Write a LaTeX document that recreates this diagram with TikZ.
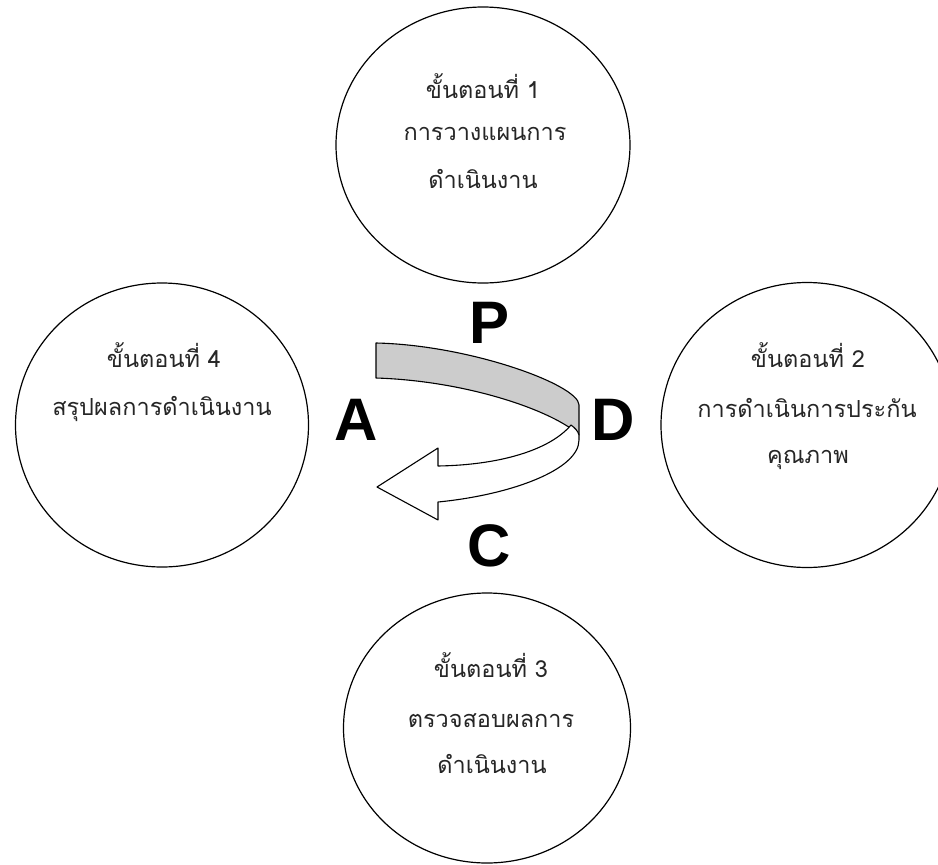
\documentclass[tikz,border=0pt]{standalone}
\usepackage{fontspec}
\setsansfont{Liberation Sans}
\newfontfamily\thaifont[Script=Thai]{Loma}
\usetikzlibrary{shapes.geometric}
\definecolor{bandgray}{RGB}{204,204,204}
\begin{document}
\begin{tikzpicture}[x=1pt,y=-1pt,
  stage/.style={ellipse,draw=black,line width=1.2pt,inner sep=0pt},
  thtext/.style={font=\thaifont\fontsize{23.5}{28}\selectfont,anchor=base,text=black!85,inner sep=0pt},
  pdca/.style={font=\sffamily\bfseries\fontsize{60}{60}\selectfont,anchor=base,inner sep=0pt},
  band/.style={draw=black,line width=1.1pt,line join=round}]
\useasboundingbox (0,0) rectangle (938,865);
\clip (0,0) rectangle (938,865);
\fill[white] (0,0) rectangle (938,865);
% circles
\node[stage,minimum width=294pt,minimum height=276pt] (c1) at (483,145) {};
\node[stage,minimum width=292pt,minimum height=285pt] (c2) at (807,425) {};
\node[stage,minimum width=287pt,minimum height=270pt] (c3) at (487,728) {};
\node[stage,minimum width=293pt,minimum height=284pt] (c4) at (162,425) {};
% texts
\node[thtext] (t1a) at (483,98) {ขั้นตอนที่ 1};
\node[thtext] (t1b) at (485,140) {การวางแผนการ};
\node[thtext] (t1c) at (483,188) {ดำเนินงาน};
\node[thtext] (t2a) at (808,367) {ขั้นตอนที่ 2};
\node[thtext] (t2b) at (807,417) {การดำเนินการประกัน};
\node[thtext] (t2c) at (808,463) {คุณภาพ};
\node[thtext] (t3a) at (491,677) {ขั้นตอนที่ 3};
\node[thtext] (t3b) at (491,727) {ตรวจสอบผลการ};
\node[thtext] (t3c) at (492,773) {ดำเนินงาน};
\node[thtext] (t4a) at (164,367) {ขั้นตอนที่ 4};
\node[thtext] (t4b) at (162,415) {สรุปผลการดำเนินงาน};
% curved arrow: back (gray) band
\draw[band,fill=bandgray] (376,343) .. controls (470,345) and (579,385) .. (579,405)
  -- (579,435) .. controls (555,412) and (470,381) .. (376,378) -- cycle;
% front (white) band with arrow head
\draw[band,fill=white] (579,435) -- (579,440) .. controls (579,470) and (510,495) .. (438,502)
  -- (438,520) -- (377,487) -- (438,448) -- (438,466)
  .. controls (500,465) and (550,450) .. (571,425)
  .. controls (575,428) and (578,431) .. (579,435) -- cycle;
% letters
\node[pdca] (P) at (490,343) {P};
\node[pdca] (D) at (613,440) {D};
\node[pdca] (A) at (356.5,440) {A};
\node[pdca] (C) at (489,566) {C};
\end{tikzpicture}
\end{document}
